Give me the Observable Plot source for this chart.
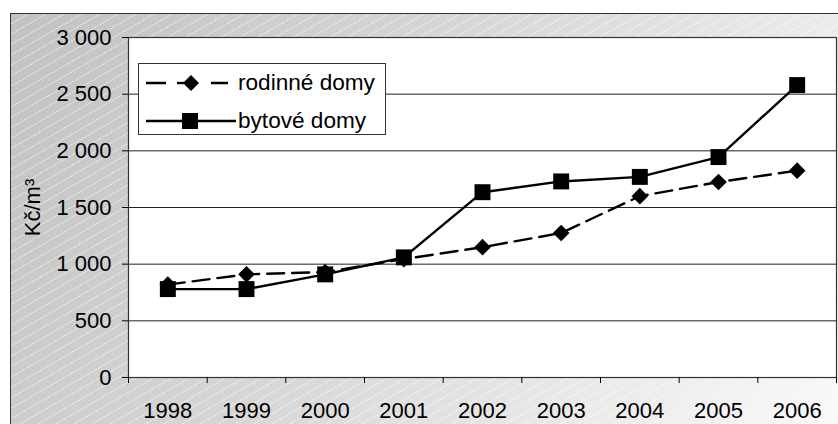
<!DOCTYPE html>
<html>
<head>
<meta charset="utf-8">
<script src="https://cdn.jsdelivr.net/npm/d3@7"></script>
<script src="https://cdn.jsdelivr.net/npm/@observablehq/plot@0.6"></script>
<style>
  html, body { margin: 0; padding: 0; background: #fff; }
  #wrap { position: relative; width: 838px; height: 424px; overflow: hidden; font-family: "Liberation Sans", Arial, sans-serif; }
  #bg {
    position: absolute; left: 10px; top: 13px; width: 840px; height: 420px;
    border-left: 1.5px solid #333; border-top: 1.5px solid #333;
    background:
      repeating-linear-gradient(150deg, rgba(255,255,255,0) 0px, rgba(255,255,255,0) 8px, rgba(255,255,255,0.4) 8px, rgba(255,255,255,0.4) 9px),
      linear-gradient(120deg, #c2c2c2 0%, #d8d8d8 45%, #fafafa 100%);
  }
  #chart { position: absolute; left: 0; top: 0; }
  #legend {
    position: absolute; left: 138px; top: 63px; width: 246px; height: 70px;
    border: 1.5px solid #333; background: #fff;
  }
  .row { position: absolute; left: 0; height: 30px; display: flex; align-items: center; white-space: nowrap; }
  .row span { font-size: 22.6px; color: #000; margin-left: 2px; white-space: nowrap; }
</style>
</head>
<body>
<div id="wrap">
  <div id="bg"></div>
  <div id="chart"></div>
  <div id="legend"></div>
</div>
<script>
const years = [1998, 1999, 2000, 2001, 2002, 2003, 2004, 2005, 2006];
const rodinneDomy = [820, 910, 930, 1045, 1150, 1275, 1600, 1725, 1825];
const bytoveDomy = [780, 780, 910, 1060, 1635, 1730, 1770, 1945, 2580];
const yTicks = [0, 500, 1000, 1500, 2000, 2500, 3000];
const seriesNames = ["rodinné domy", "bytové domy"];
const yLabel = "Kč/m³";

const rowsR = years.map((y, i) => ({year: y, value: rodinneDomy[i]}));
const rowsB = years.map((y, i) => ({year: y, value: bytoveDomy[i]}));
const boundaries = d3.range(years.length + 1).map(i => years[0] - 0.5 + i);
const fmt = d => d3.format(",")(d).replace(/,/g, " ");

const chart = Plot.plot({
  width: 838, height: 424,
  marginLeft: 128, marginTop: 37, marginRight: 2, marginBottom: 47,
  style: {background: "transparent", fontFamily: "'Liberation Sans', Arial, sans-serif", fontSize: "22px", color: "#000"},
  x: {domain: [boundaries[0], boundaries[boundaries.length - 1]]},
  y: {domain: [0, 3000]},
  marks: [
    Plot.frame({fill: "white", stroke: "none"}),
    Plot.gridY(yTicks, {stroke: "#222", strokeOpacity: 1, strokeWidth: 1}),
    Plot.frame({stroke: "#333", strokeWidth: 1.2}),
    Plot.axisY(yTicks, {tickSize: 6, tickPadding: 11, tickFormat: fmt, label: yLabel, labelAnchor: "center", labelOffset: 104, labelArrow: "none", fontSize: 22}),
    Plot.axisX(boundaries, {tickSize: 6, tickFormat: () => "", label: null}),
    Plot.axisX(years, {tickSize: 0, tickPadding: 25, tickFormat: d => String(d), label: null, fontSize: 22}),
    Plot.line(rowsR, {x: "year", y: "value", stroke: "black", strokeWidth: 2.4, strokeDasharray: "17,8"}),
    Plot.line(rowsB, {x: "year", y: "value", stroke: "black", strokeWidth: 2.4}),
    Plot.dot(rowsR, {x: "year", y: "value", symbol: "diamond2", r: 7.5, fill: "black", stroke: "none"}),
    Plot.dot(rowsB, {x: "year", y: "value", symbol: "square", r: 9, fill: "black", stroke: "none"})
  ]
});
document.getElementById("chart").appendChild(chart);

// legend
const legend = document.getElementById("legend");
const swatches = [
  `<svg width="97" height="30"><line x1="7" y1="15" x2="92" y2="15" stroke="black" stroke-width="2.4" stroke-dasharray="20,11"/><rect x="40" y="7" width="32" height="16" fill="white"/><line x1="40" y1="15" x2="45" y2="15" stroke="black" stroke-width="2.4"/><path d="M52,7 L60,15 L52,23 L44,15 Z" fill="black"/></svg>`,
  `<svg width="97" height="30"><line x1="7" y1="15" x2="97" y2="15" stroke="black" stroke-width="2.4"/><rect x="43" y="7" width="16" height="16" fill="black"/></svg>`
];
seriesNames.forEach((name, i) => {
  const row = document.createElement("div");
  row.className = "row";
  row.style.top = (4 + i * 38) + "px";
  row.innerHTML = swatches[i] + `<span>${name}</span>`;
  legend.appendChild(row);
});
</script>
</body>
</html>
